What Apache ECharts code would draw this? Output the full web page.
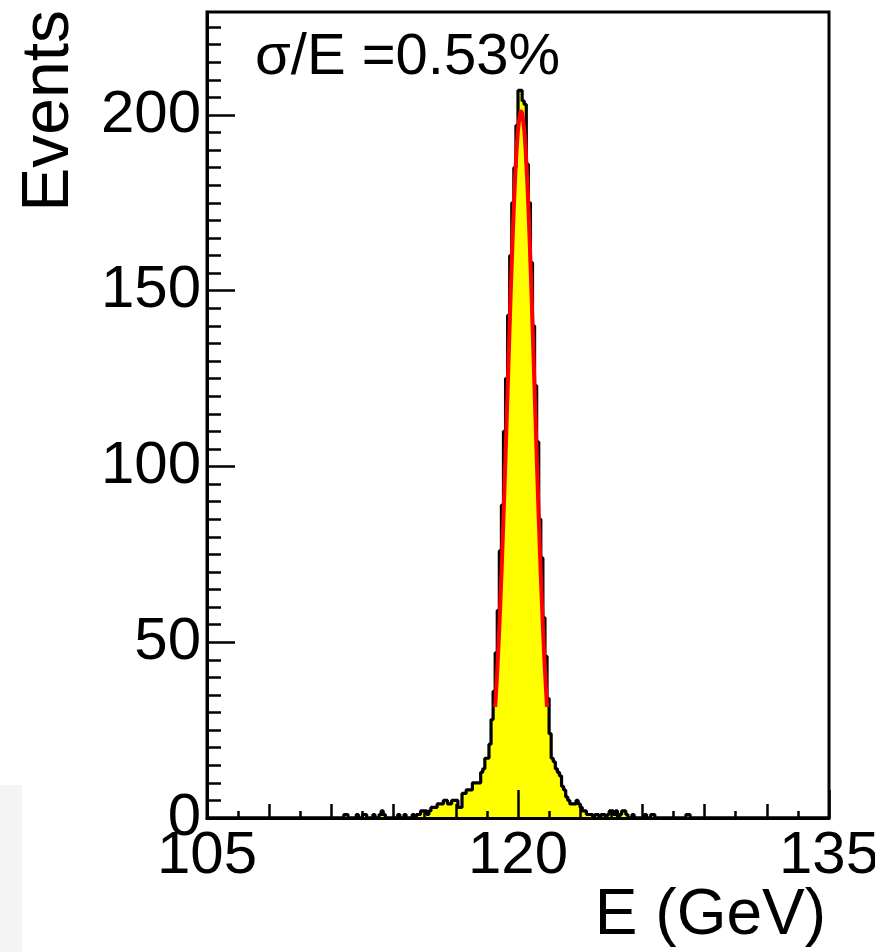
<!DOCTYPE html>
<html>
<head>
<meta charset="utf-8">
<script src="https://cdn.jsdelivr.net/npm/echarts@6/dist/echarts.min.js"></script>
<style>
  html, body { margin: 0; padding: 0; background: #ffffff; }
  #chart { width: 875px; height: 952px; }
</style>
</head>
<body>
<div id="chart"></div>
<script>
// Energy histogram: 300 bins of 0.1 GeV between 105 and 135 GeV
const binLow = 105;
const binWidth = 0.1;
const counts = [
  0, 0, 0, 0, 0, 0, 0, 0, 0, 0,          // 105.0
  0, 0, 0, 0, 0, 0, 0, 0, 0, 0,          // 106.0
  0, 0, 0, 0, 0, 0, 0, 0, 0, 0,          // 107.0
  0, 0, 0, 0, 0, 0, 0, 0, 0, 0,          // 108.0
  0, 0, 0, 0, 0, 0, 0, 0, 0, 0,          // 109.0
  0, 0, 0, 0, 0, 0, 0, 0, 0, 0,          // 110.0
  0, 0, 0, 0, 0, 0, 1, 1, 0, 0,          // 111.0
  0, 0, 1, 0, 0, 1, 1, 0, 0, 0,          // 112.0
  1, 0, 0, 1, 2, 1, 0, 0, 0, 0,          // 113.0
  0, 0, 1, 0, 0, 1, 0, 0, 0, 1,          // 114.0
  0, 1, 1, 2, 2, 2, 1, 2, 3, 3,          // 115.0
  3, 4, 4, 4, 5, 5, 4, 4, 5, 5,          // 116.0
  5, 3, 3, 7, 7, 8, 8, 8, 10, 10,        // 117.0
  10, 10, 13, 14, 17, 17, 21, 28, 36, 47,            // 118.0
  59, 76, 89, 110, 125, 143, 160, 175, 185, 197,     // 119.0
  207, 207, 204, 203, 186, 175, 158, 140, 123, 107,  // 120.0
  85, 74, 57, 46, 34, 24, 17, 16, 14, 13,            // 121.0
  12, 9, 8, 6, 5, 4, 4, 4, 5, 4,         // 122.0
  3, 2, 2, 1, 1, 1, 0, 1, 1, 0,          // 123.0
  1, 1, 0, 1, 2, 2, 1, 2, 0, 1,          // 124.0
  2, 2, 1, 0, 0, 1, 0, 0, 0, 0,          // 125.0
  0, 1, 0, 0, 1, 1, 0, 0, 0, 0,          // 126.0
  0, 0, 0, 0, 0, 0, 0, 0, 0, 0,          // 127.0
  0, 1, 1, 0, 0, 0, 0, 0, 0, 0,          // 128.0
  0, 0, 0, 0, 0, 0, 0, 0, 0, 0,          // 129.0
  0, 0, 0, 0, 0, 0, 0, 0, 0, 0,          // 130.0
  0, 0, 0, 0, 0, 0, 0, 0, 0, 0,          // 131.0
  0, 0, 0, 0, 0, 0, 0, 0, 0, 0,          // 132.0
  0, 0, 0, 0, 0, 0, 0, 0, 0, 0,          // 133.0
  0, 0, 0, 0, 0, 0, 0, 0, 0, 0           // 134.0
];

// Gaussian fit curve, sampled points (GeV, events)
const fitX = [118.9, 119.0, 119.1, 119.2, 119.3, 119.4, 119.5, 119.6, 119.7, 119.8, 119.9, 120.0, 120.1,
              120.15, 120.2, 120.3, 120.4, 120.5, 120.6, 120.7, 120.8, 120.9, 121.0, 121.1, 121.2, 121.3, 121.4];
const fitY = [31.6, 42.0, 54.5, 69.1, 85.5, 103.3, 121.9, 140.5, 158.2, 173.9, 186.7, 195.7, 200.4,
              201.0, 200.4, 195.7, 186.7, 173.9, 158.2, 140.5, 121.9, 103.3, 85.5, 69.1, 54.5, 42.0, 31.6];

// Axis ticks and labels
const xMajor = [105, 120, 135];
const yMajor = [0, 50, 100, 150, 200];
const xRange = [105, 135];
const yRange = [0, 229.3];
const resolutionText = 'σ/E =0.53%';
const xTitle = 'E (GeV)';
const yTitle = 'Events';

const FONT = '"Liberation Sans", Arial, Helvetica, sans-serif';

// step outline data: each bin's value starts at its low edge
const histData = counts.map((c, i) => [+(binLow + i * binWidth).toFixed(2), c]);
histData.push([xRange[1], counts[counts.length - 1]]);
const fitData = fitX.map((x, i) => [x, fitY[i]]);

const yMinorTicks = [];
for (let v = 5; v < yRange[1]; v += 5) yMinorTicks.push(v);
const xMidTicks = [];
for (let v = 105; v <= 135; v += 3) xMidTicks.push(v);
const xSmallTicks = [];
for (let v = 106.5; v < 135; v += 3) xSmallTicks.push(v);

const chart = echarts.init(document.getElementById('chart'), null, { renderer: 'canvas' });

const hiddenAxisBase = {
  type: 'value',
  axisLine: { show: false },
  axisLabel: { show: false },
  splitLine: { show: false },
  z: 10
};

chart.setOption({
  animation: false,
  backgroundColor: '#ffffff',
  grid: {
    left: 207, right: 46, top: 12, bottom: 134,
    containLabel: false, outerBoundsMode: 'none',
    show: true, borderColor: '#000', borderWidth: 3, backgroundColor: 'transparent'
  },
  xAxis: [
    {
      type: 'value', position: 'bottom', min: xRange[0], max: xRange[1], interval: 15,
      axisLine: { show: true, onZero: false, lineStyle: { color: '#000', width: 3 } },
      axisTick: { show: true, inside: true, length: 28, customValues: xMajor, lineStyle: { color: '#000', width: 2.5 } },
      axisLabel: { show: true, customValues: xMajor, color: '#000', fontSize: 60, fontFamily: FONT, margin: 8 },
      splitLine: { show: false },
      z: 10
    },
    Object.assign({}, hiddenAxisBase, {
      position: 'bottom', min: xRange[0], max: xRange[1], interval: 3,
      axisTick: { show: true, inside: true, length: 14, customValues: xMidTicks, lineStyle: { color: '#000', width: 2.5 } }
    }),
    Object.assign({}, hiddenAxisBase, {
      position: 'bottom', min: xRange[0], max: xRange[1], interval: 1.5,
      axisTick: { show: true, inside: true, length: 7, customValues: xSmallTicks, lineStyle: { color: '#000', width: 2.5 } }
    })
  ],
  yAxis: [
    {
      type: 'value', position: 'left', min: yRange[0], max: yRange[1], interval: 50,
      axisLine: { show: true, onZero: false, lineStyle: { color: '#000', width: 3 } },
      axisTick: { show: true, inside: true, length: 28, customValues: yMajor, lineStyle: { color: '#000', width: 2.5 } },
      axisLabel: { show: true, customValues: yMajor, color: '#000', fontSize: 60, fontFamily: FONT, margin: 6 },
      splitLine: { show: false },
      z: 10
    },
    Object.assign({}, hiddenAxisBase, {
      position: 'left', min: yRange[0], max: yRange[1], interval: 50,
      axisTick: { show: true, inside: true, length: 14, customValues: yMinorTicks, lineStyle: { color: '#000', width: 2.5 } }
    })
  ],
  series: [
    {
      name: 'events',
      type: 'line',
      xAxisIndex: 0, yAxisIndex: 0,
      step: 'end',
      data: histData,
      symbol: 'none',
      sampling: false,
      lineStyle: { color: '#000', width: 3.2 },
      areaStyle: { color: '#ffff00', opacity: 1, origin: 'start' },
      z: 2
    },
    {
      name: 'fit',
      type: 'line',
      xAxisIndex: 0, yAxisIndex: 0,
      data: fitData,
      smooth: 0.3,
      symbol: 'none',
      lineStyle: { color: '#ff0000', width: 4 },
      z: 3
    }
  ],
  graphic: [
    {
      type: 'rect', left: 0, top: 785, z: -1,
      shape: { width: 22, height: 167 },
      style: { fill: '#f4f4f4' }
    },
    {
      type: 'text', x: 255, y: 58,
      style: { text: resolutionText, fill: '#000', font: '58px ' + FONT, align: 'left', verticalAlign: 'middle' }
    },
    {
      type: 'text', x: 826, y: 916,
      style: { text: xTitle, fill: '#000', font: '64px ' + FONT, align: 'right', verticalAlign: 'middle' }
    },
    {
      type: 'text', x: 50, y: 10, rotation: Math.PI / 2,
      style: { text: yTitle, fill: '#000', font: '66px ' + FONT, align: 'right', verticalAlign: 'middle' }
    }
  ]
});
</script>
</body>
</html>
